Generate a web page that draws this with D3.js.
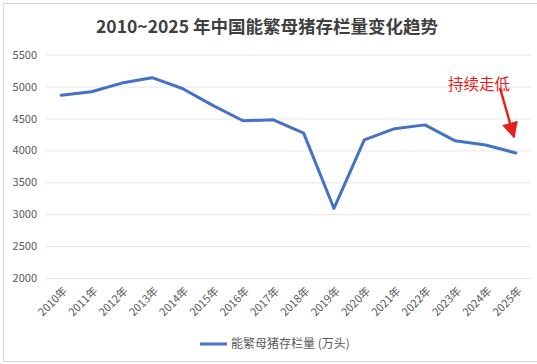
<!DOCTYPE html>
<html>
<head>
<meta charset="utf-8">
<script src="https://cdn.jsdelivr.net/npm/d3@7"></script>
<style>
  body { margin: 0; background: #fff; }
  text { font-family: "Noto Sans CJK SC", "Noto Sans", sans-serif; }
</style>
</head>
<body>
<svg id="chart"></svg>
<script>
// данные графика
const years = ["2010年", "2011年", "2012年", "2013年", "2014年", "2015年", "2016年", "2017年",
    "2018年", "2019年", "2020年", "2021年", "2022年", "2023年", "2024年", "2025年"];
const sows = [4865, 4920, 5055, 5140, 4970, 4705, 4465, 4480, 4270, 3090, 4165, 4340, 4400, 4150, 4085, 3960];
const yTicks = [2000, 2500, 3000, 3500, 4000, 4500, 5000, 5500];
const seriesName = "能繁母猪存栏量 (万头)";
const titleText = "2010~2025 年中国能繁母猪存栏量变化趋势";
const noteText = "持续走低";

let width = 537;
let height = 364;

let svg = d3.select("#chart")
    .attr("width", width)
    .attr("height", height);

// рамка диаграммы
svg.append("rect")
    .attr("x", 3.5)
    .attr("y", 3.5)
    .attr("width", width + 10)
    .attr("height", height - 6)
    .attr("fill", "#fff")
    .attr("stroke", "#d9d9d9");

// заголовок
svg.append("text")
    .attr("x", 267)
    .attr("y", 33)
    .attr("text-anchor", "middle")
    .attr("font-size", "17.5px")
    .attr("font-weight", "bold")
    .attr("fill", "#404040")
    .text(titleText);

let plotLeft = 46;
let plotRight = 531;

// шкалы
let scaleX = d3.scaleBand()
    .domain(years)
    .range([plotLeft, plotRight]);

let scaleY = d3.scaleLinear()
    .domain([2000, 5500])
    .range([278, 54.7]);

// ось OY с сеткой
let axisY = d3.axisLeft(scaleY)
    .tickValues(yTicks)
    .tickFormat(d3.format("d"))
    .tickSize(-(plotRight - plotLeft))
    .tickPadding(9);

let gy = svg.append("g")
    .attr("class", "y-axis")
    .attr("transform", `translate(${plotLeft}, 0)`)
    .call(axisY);
gy.select(".domain").remove();
gy.selectAll("line").attr("stroke", "#e6e6e6");
gy.selectAll("text")
    .attr("fill", "#595959")
    .attr("font-size", "11px");

// ось OX, подписи под углом
let axisX = d3.axisBottom(scaleX).tickSize(0);
let gx = svg.append("g")
    .attr("class", "x-axis")
    .attr("transform", `translate(0, ${scaleY(2000)})`)
    .call(axisX);
gx.select(".domain").remove();
gx.selectAll("text")
    .attr("fill", "#595959")
    .attr("font-size", "11px")
    .style("text-anchor", "end")
    .attr("x", 0)
    .attr("y", 0)
    .attr("dx", 0)
    .attr("dy", "0.35em")
    .attr("transform", "translate(4, 11) rotate(-45)");

// линия
let line = d3.line()
    .x((d, i) => scaleX(years[i]) + scaleX.bandwidth() / 2)
    .y(d => scaleY(d));

svg.append("path")
    .datum(sows)
    .attr("fill", "none")
    .attr("stroke", "#4472C4")
    .attr("stroke-width", 3)
    .attr("stroke-linejoin", "round")
    .attr("stroke-linecap", "round")
    .attr("d", line);

// аннотация
svg.append("text")
    .attr("x", 479)
    .attr("y", 90)
    .attr("text-anchor", "middle")
    .attr("font-size", "15.5px")
    .attr("fill", "#e8201c")
    .text(noteText);

svg.append("defs").append("marker")
    .attr("id", "arrow")
    .attr("viewBox", "0 0 10 10")
    .attr("refX", 9)
    .attr("refY", 5)
    .attr("markerWidth", 6.5)
    .attr("markerHeight", 7)
    .attr("orient", "auto")
    .append("path")
    .attr("d", "M0,0 L10,5 L0,10 z")
    .attr("fill", "#e8201c");

svg.append("line")
    .attr("x1", 500)
    .attr("y1", 88)
    .attr("x2", 514)
    .attr("y2", 137)
    .attr("stroke", "#e8201c")
    .attr("stroke-width", 2.5)
    .attr("marker-end", "url(#arrow)");

// легенда
let legend = svg.append("g").attr("transform", "translate(200, 344)");
legend.append("line")
    .attr("x1", 0).attr("x2", 27)
    .attr("y1", 0).attr("y2", 0)
    .attr("stroke", "#4472C4")
    .attr("stroke-width", 3);
legend.append("text")
    .attr("x", 31)
    .attr("y", 4)
    .attr("font-size", "12px")
    .attr("fill", "#595959")
    .text(seriesName);
</script>
</body>
</html>
